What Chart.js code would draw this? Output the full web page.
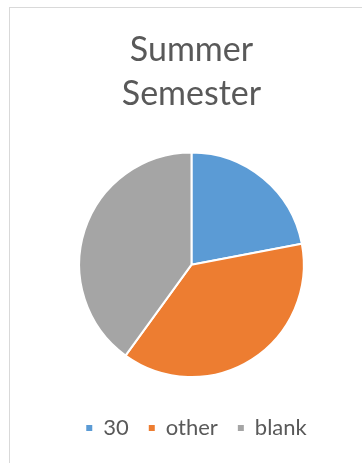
<!DOCTYPE html>
<html>
<head>
<meta charset="utf-8">
<script src="https://cdn.jsdelivr.net/npm/chart.js@4/dist/chart.umd.min.js"></script>
<style>
  html, body { margin: 0; padding: 0; background: #ffffff; overflow: hidden; }
  body { width: 362px; height: 463px; position: relative; }
  #frame {
    position: absolute; left: 9px; top: 7px; width: 364px; height: 460px;
    border-left: 1px solid #d9d9d9; border-top: 1px solid #d9d9d9;
    box-sizing: border-box;
  }
  #wrap { position: absolute; left: 0; top: 0; width: 363px; height: 459px; }
</style>
</head>
<body>
<div id="frame"><div id="wrap"><canvas id="chart"></canvas></div></div>
<script>
// Summer semester responses
const titleLines = ['Summer', 'Semester'];
const categories = ['30', 'other', 'blank'];
const counts = [11, 19, 20];
const sliceColors = ['#5B9BD5', '#ED7D31', '#A5A5A5'];

const FONT = 'Lato, "Open Sans", sans-serif';
const TEXT = '#595959';

// nudges the legend row a little to the right of the pie's centre line
const legendNudge = {
  id: 'legendNudge',
  afterLayout(chart) {
    if (chart.legend) {
      chart.legend.left += 5;
      chart.legend.right += 5;
    }
  }
};

new Chart(document.getElementById('chart'), {
  type: 'pie',
  data: {
    labels: categories,
    datasets: [{
      data: counts,
      backgroundColor: sliceColors,
      borderColor: '#ffffff',
      borderWidth: 2
    }]
  },
  options: {
    responsive: true,
    maintainAspectRatio: false,
    animation: false,
    layout: { padding: { top: 0, bottom: 18, left: 0, right: 0 } },
    plugins: {
      title: {
        display: true,
        text: titleLines,
        color: TEXT,
        font: { family: FONT, size: 34, weight: 'normal', lineHeight: 1.3 },
        padding: { top: 20, bottom: 35 }
      },
      // empty spacer between the pie and the legend
      subtitle: {
        display: true,
        position: 'bottom',
        weight: 500,
        text: '',
        font: { size: 1, lineHeight: 1 },
        padding: { top: 9, bottom: 9 }
      },
      legend: {
        position: 'bottom',
        labels: {
          color: TEXT,
          font: { family: FONT, size: 22 },
          boxWidth: 6,
          boxHeight: 6,
          padding: 20,
          generateLabels(chart) {
            const items = Chart.overrides.pie.plugins.legend.labels.generateLabels(chart);
            return items.map(it => Object.assign(it, { lineWidth: 0, strokeStyle: 'rgba(0,0,0,0)' }));
          }
        }
      },
      tooltip: { enabled: false }
    }
  },
  plugins: [legendNudge]
});
</script>
</body>
</html>
